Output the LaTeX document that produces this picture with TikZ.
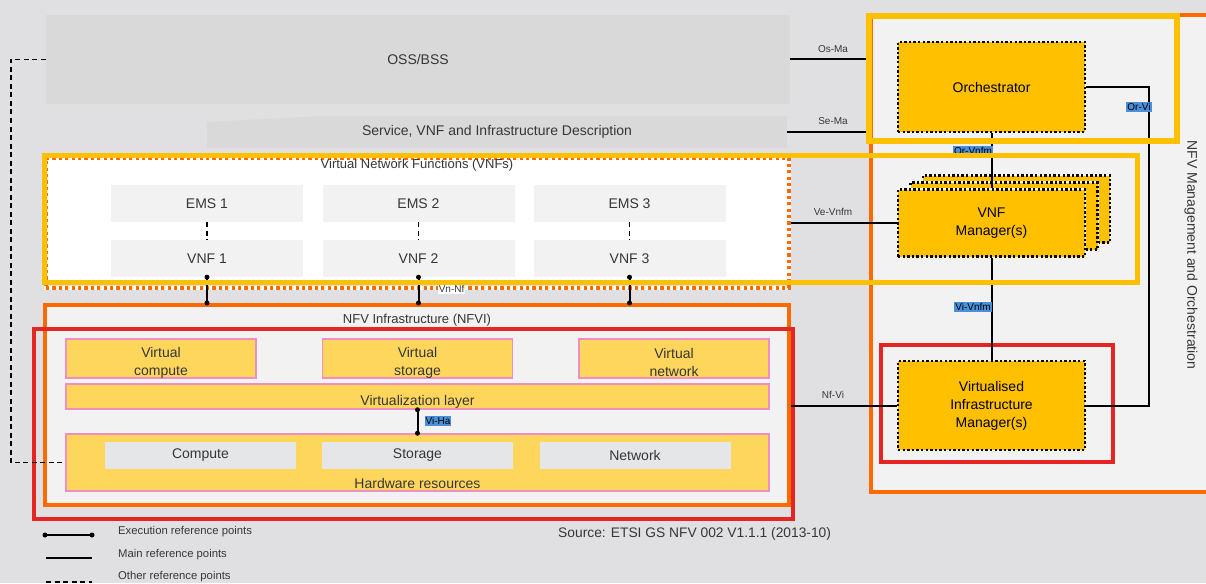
\documentclass[tikz,border=0pt]{standalone}
\usepackage{fontspec}
\setmainfont{Liberation Sans}
\usetikzlibrary{positioning}

\definecolor{bggray}{HTML}{E0E0E2}
\definecolor{ossgray}{HTML}{D9D9D9}
\definecolor{panel}{HTML}{F2F2F2}
\definecolor{gold}{HTML}{FFC000}
\definecolor{nfvorange}{HTML}{FF6A00}
\definecolor{nfvred}{HTML}{E42522}
\definecolor{softyellow}{HTML}{FFD65C}
\definecolor{pinkline}{HTML}{EE8FC4}
\definecolor{hwgray}{HTML}{E4E6E8}
\definecolor{refblue}{HTML}{4A90D9}
\definecolor{txtgray}{HTML}{363636}

\newcommand{\lowtext}{\rule{0pt}{18pt}}

\tikzset{
  box/.style={inner sep=0pt, align=center, text=txtgray, font=\fontsize{14}{18}\selectfont},
  greybox/.style={box, fill=panel},
  virtbox/.style={box, fill=softyellow, draw=pinkline, line width=1.5},
  hwbox/.style={box, fill=hwgray},
  mgmtbox/.style={box, fill=gold, preaction={draw=white, line width=2.4, solid},
    draw=black, line width=2.4, dash pattern=on 2.4pt off 2.2pt, text=black},
  mainref/.style={draw=black, line width=2},
  otherref/.style={draw=black, line width=1.5, dash pattern=on 5pt off 3.5pt},
  reflabel/.style={inner sep=1pt, text=txtgray, font=\fontsize{10}{12}\selectfont},
  bluelabel/.style={reflabel, fill=refblue, text=black},
  legendtext/.style={anchor=west, inner sep=0pt, text=txtgray, font=\fontsize{11.3}{13}\selectfont}
}

\begin{document}
\begin{tikzpicture}[x=1pt,y=-1pt]
\useasboundingbox (0,0) rectangle (1206,583);
\clip (0,0) rectangle (1206,583);
\fill[bggray] (0,0) rectangle (1206,583);

% OSS/BSS and descriptions
\node[box, fill=ossgray, minimum width=744, minimum height=89] (oss) at (418,59.5) {OSS/BSS};
\fill[ossgray] (207,122) -- (321,116) -- (787,116) -- (787,148) -- (207,148) -- cycle;
\node[box, minimum width=580, minimum height=32] (svc) at (497,132) {Service, VNF and Infrastructure Description};

% MANO panel
\node[box, fill=panel, draw=nfvorange, line width=4, minimum width=345, minimum height=476] (mano) at (1043,253.5) {};
\node[box, rotate=-90] (manotitle) at (1191,255) {NFV Management and Orchestration};

% VNFs
\fill[white] (46,158) rectangle (789,280);
\node[preaction={draw=white, line width=3.2, solid}, draw=nfvorange, line width=3.2,
  dash pattern=on 3.2pt off 3.2pt, minimum width=743, minimum height=130] (vnfs) at (417.5,223) {};
\node[box, font=\fontsize{13}{15}\selectfont] (vnfstitle) at (417,165) {Virtual Network Functions (VNFs)};
\foreach \i/\x in {1/207,2/418.5,3/629.5}{
  \node[greybox, minimum width=192, minimum height=37] (ems\i) at (\x,203.5) {EMS \i};
  \node[greybox, minimum width=192, minimum height=37] (vnf\i) at (\x,258.5) {VNF \i};
  \draw[otherref] (ems\i) -- (vnf\i);
}

% NFVI
\node[box, fill=panel, draw=nfvorange, line width=4, minimum width=744, minimum height=200] (nfvi) at (417,405) {};
\node[box, font=\fontsize{13}{15}\selectfont] (nfvititle) at (417,320) {NFV Infrastructure (NFVI)};
\node[virtbox, minimum width=190, minimum height=39] (vcomp) at (161,358.5) {\lowtext Virtual\\compute};
\node[virtbox, minimum width=190, minimum height=39] (vstor) at (417.5,358.5) {\lowtext Virtual\\storage};
\node[virtbox, minimum width=190, minimum height=39] (vnet) at (674,358.5) {\lowtext Virtual\\network};
\node[virtbox, minimum width=703, minimum height=25] (virtlayer) at (417.5,396.5) {};
\node[box] (virtlabel) at (417.5,402) {Virtualization layer};
\node[virtbox, minimum width=703, minimum height=57] (hw) at (417.5,462.5) {};
\foreach \n/\x/\t in {cpu/200.5/Compute, sto/417.5/Storage, net/635/Network}
  \node[hwbox, minimum width=191, minimum height=27] (\n) at (\x,455.5) {\t};
\node[box] (hwlabel) at (417.5,483) {Hardware resources};
\draw[nfvred, line width=4] (33.7,329) rectangle (793,519.3);

% management boxes
\node[mgmtbox, minimum width=187, minimum height=90] (orch) at (991.5,87) {Orchestrator};
\node[mgmtbox, minimum width=187, minimum height=67] (vnfm3) at (1016.5,209) {};
\node[mgmtbox, minimum width=187, minimum height=67] (vnfm2) at (1004,216) {};
\node[mgmtbox, minimum width=187, minimum height=67] (vnfm) at (991.5,223) {VNF\\Manager(s)};
\draw[nfvred, line width=4] (881,345) rectangle (1113,461.7);
\node[mgmtbox, minimum width=187, minimum height=89] (vim) at (991.5,405.5) {Virtualised\\Infrastructure\\Manager(s)};

% reference points
\draw[mainref] (oss.east) -- (oss.east -| mano.west);
\node[reflabel] (osma) at (833,49) {Os-Ma};
\draw[mainref] (svc.east) -- (svc.east -| mano.west);
\node[reflabel] (sema) at (833,121) {Se-Ma};
\draw[mainref] (vnfm.west -| vnfs.east) -- (vnfm.west);
\node[reflabel] (vevnfm) at (833,212) {Ve-Vnfm};
\draw[mainref] (vim.west -| nfvi.east) -- (vim.west);
\node[reflabel] (nfvilbl) at (833,395) {Nf-Vi};
\draw[mainref] (orch.south) -- (vnfm.north);
\node[bluelabel] (orvnfm) at (973,151) {Or-Vnfm};
\draw[mainref] (vnfm.south) -- (vim.north);
\node[bluelabel] (vivnfm) at (973,307) {Vi-Vnfm};
\coordinate (orvi) at (1149,250);
\draw[mainref] (orch.east) -- (orch.east -| orvi) -- (vim.east -| orvi) -- (vim.east);
\node[bluelabel] (orvilbl) at (1139,107) {Or-Vi};
\foreach \i in {1,2,3}{
  \draw[mainref] (vnf\i.south) -- (vnf\i.south |- nfvi.north);
  \fill (vnf\i.south) circle (2.5) (vnf\i.south |- nfvi.north) circle (2.5);
}
\node[reflabel, fill=white] (vnnf) at (451.6,289) {Vn-Nf};
\draw[mainref] (virtlayer.south) -- (hw.north);
\fill (virtlayer.south) circle (2.5) (hw.north) circle (2.5);
\node[bluelabel] (viha) at (438,421) {Vi-Ha};
\draw[otherref] (oss.west) -- ++(-35,0) |- (hw.west);

% highlight frames
\draw[gold, line width=5] (44,155.5) rectangle (1137,282);
\draw[gold, line width=6] (869,16) rectangle (1177,141);

% legend
\coordinate (ex1) at (45,535); \coordinate (ex2) at (92,535);
\draw[mainref, line width=1.5] (ex1) -- (ex2);
\fill (ex1) circle (2.5) (ex2) circle (2.5);
\node[legendtext] (lgexec) at (118,532) {Execution reference points};
\coordinate (mn1) at (46,558); \coordinate (mn2) at (92,558);
\draw[mainref] (mn1) -- (mn2);
\node[legendtext] (lgmain) at (118,555) {Main reference points};
\coordinate (ot1) at (46,582); \coordinate (ot2) at (92,582);
\draw[otherref] (ot1) -- (ot2);
\node[legendtext] (lgother) at (118,577) {Other reference points};
\node[box, anchor=west, font=\fontsize{13.8}{16}\selectfont] (source) at (558,534) {Source: ETSI GS NFV 002 V1.1.1 (2013-10)};
\end{tikzpicture}
\end{document}
